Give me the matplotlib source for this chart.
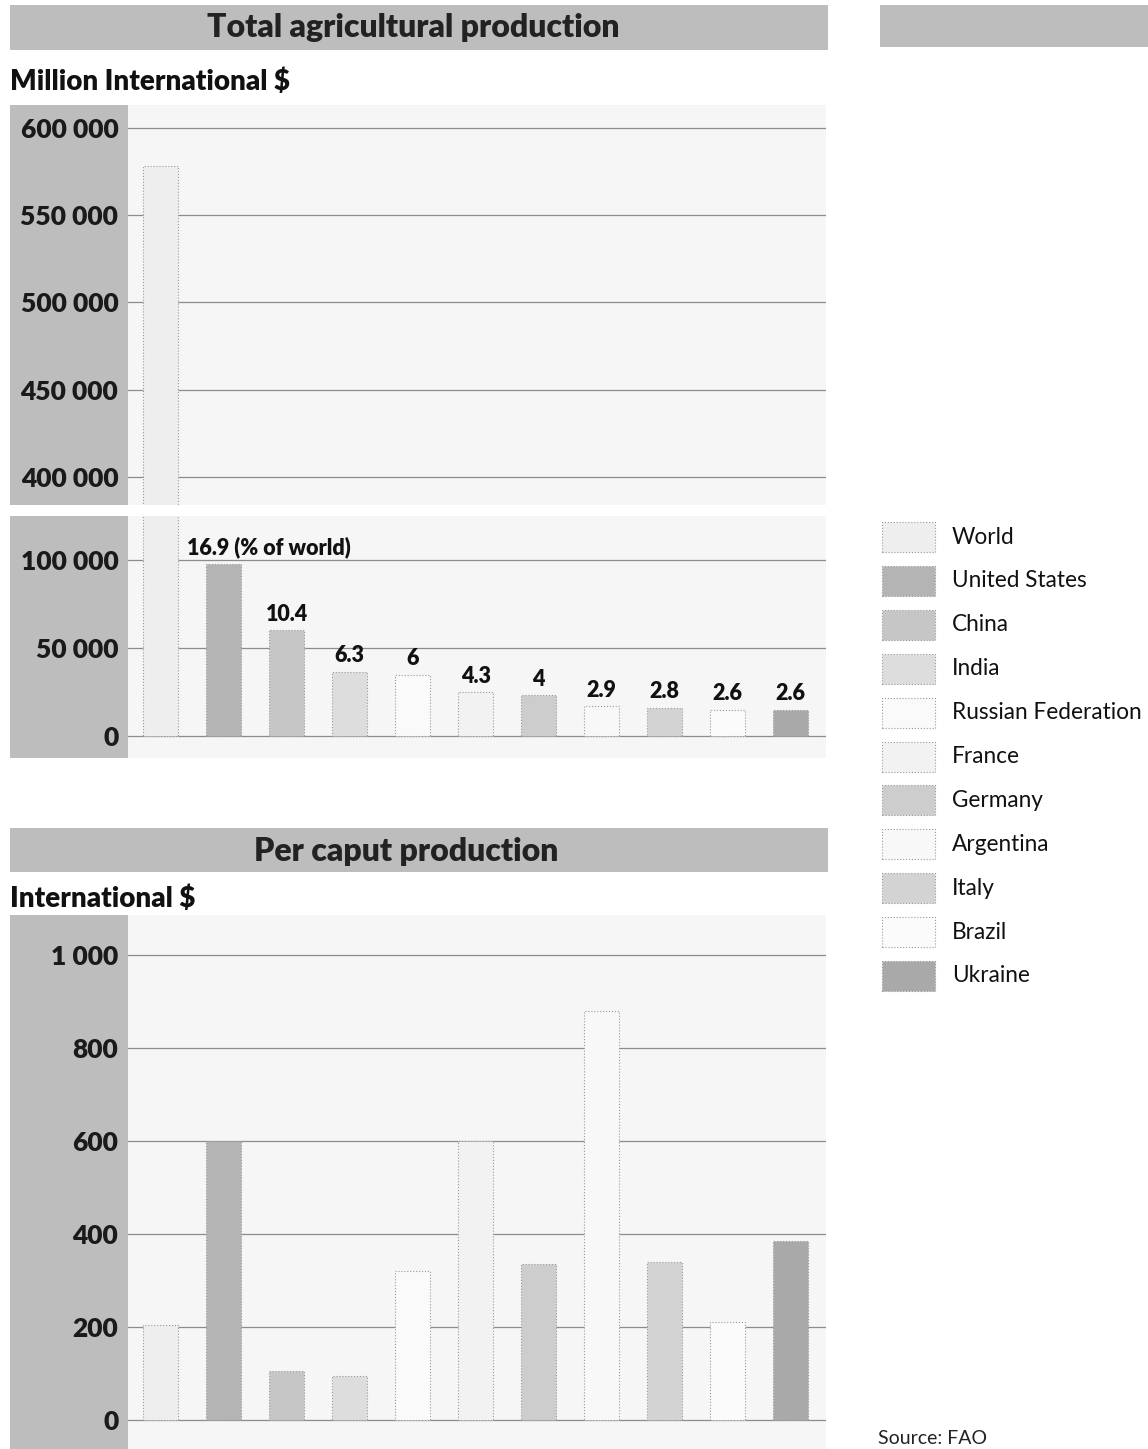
import matplotlib
matplotlib.use("Agg")
from matplotlib import pyplot as plt
from matplotlib.patches import Rectangle

countries = ["World", "United States", "China", "India", "Russian Federation",
             "France", "Germany", "Argentina", "Italy", "Brazil", "Ukraine"]
world_total = 578000          # million International $
share_pct = [16.9, 10.4, 6.3, 6, 4.3, 4, 2.9, 2.8, 2.6, 2.6]
per_caput = [205, 600, 105, 95, 320, 600, 335, 880, 340, 210, 385]
shades = ["#eeeeee", "#b4b4b4", "#c6c6c6", "#dddddd", "#fafafa", "#f2f2f2",
          "#cdcdcd", "#f8f8f8", "#d3d3d3", "#fbfbfb", "#a9a9a9"]
hi_ticks = [400000, 450000, 500000, 550000, 600000]
lo_ticks = [0, 50000, 100000]
pc_ticks = [0, 200, 400, 600, 800, 1000]

W, H = 1148, 1449
FONT = "Lato"
STRIP = "#bdbdbd"
BG = "#f6f6f6"


def rect(x0, y0, x1, y1):
    # pixel box (from top left) -> figure fraction [left, bottom, width, height]
    return [x0 / W, 1 - y1 / H, (x1 - x0) / W, (y1 - y0) / H]


def fmt(v):
    return f"{v:,}".replace(",", " ")


def style_axes(ax, ticks, ylim):
    ax.set_facecolor(BG)
    ax.set_xlim(-0.52, 10.56)
    ax.set_ylim(*ylim)
    ax.set_yticks(ticks)
    ax.set_yticklabels([fmt(t) for t in ticks], fontfamily=FONT,
                       fontweight="heavy", fontsize=19, color="#1a1a1a")
    ax.tick_params(axis="y", length=0, pad=7)
    ax.set_xticks([])
    ax.grid(axis="y", color="#8c8c8c", lw=0.9)
    ax.set_axisbelow(True)
    for s in ax.spines.values():
        s.set_visible(False)


def draw_bars(ax, values):
    x = range(len(values))
    ax.bar(x, values, width=0.55, color=shades, edgecolor="#9a9a9a",
           linewidth=0.8, linestyle=":", zorder=2)


fig = plt.figure(figsize=(W / 100, H / 100), dpi=100)

# grey banners and the strips behind the tick labels
for box in [(10, 5, 828, 50), (10, 828, 828, 872), (880, 5, 1148, 47),
            (10, 105, 128, 505), (10, 516, 128, 758), (10, 915, 128, 1449)]:
    r = rect(*box)
    fig.add_artist(Rectangle((r[0], r[1]), r[2], r[3], transform=fig.transFigure,
                             facecolor=STRIP, edgecolor="none", zorder=0))

fig.text(413 / W, 1 - 28 / H, "Total agricultural production", ha="center",
         va="center", fontfamily=FONT, fontweight="heavy", fontsize=23, color="#222222")
fig.text(406 / W, 1 - 851 / H, "Per caput production", ha="center",
         va="center", fontfamily=FONT, fontweight="heavy", fontsize=23, color="#222222")
fig.text(10 / W, 1 - 82 / H, "Million International $", ha="left", va="center",
         fontfamily=FONT, fontweight="heavy", fontsize=20, color="#111111")
fig.text(10 / W, 1 - 899 / H, "International $", ha="left", va="center",
         fontfamily=FONT, fontweight="heavy", fontsize=20, color="#111111")

totals = [world_total] + [world_total * p / 100 for p in share_pct]

# total production, split into an upper and a lower band
ax_hi = fig.add_axes(rect(128, 105, 826, 505))
style_axes(ax_hi, hi_ticks, (384000, 613000))
draw_bars(ax_hi, totals)

ax_lo = fig.add_axes(rect(128, 516, 826, 758))
style_axes(ax_lo, lo_ticks, (-12500, 125000))
draw_bars(ax_lo, totals)

for i, p in enumerate(share_pct, start=1):
    if i == 1:
        ax_lo.annotate(f"{p:g} (% of world)", (i - 0.58, totals[i]),
                       xytext=(0, 4), textcoords="offset points", ha="left",
                       va="bottom", fontfamily=FONT, fontweight="heavy",
                       fontsize=15.5, color="#111111")
    else:
        ax_lo.annotate(f"{p:g}", (i, totals[i]), xytext=(0, 4),
                       textcoords="offset points", ha="center", va="bottom",
                       fontfamily=FONT, fontweight="heavy", fontsize=15.5,
                       color="#111111")

# per caput production
ax_pc = fig.add_axes(rect(128, 915, 826, 1449))
style_axes(ax_pc, pc_ticks, (-62, 1086))
draw_bars(ax_pc, per_caput)

# legend
for i, (name, c) in enumerate(zip(countries, shades)):
    yc = 537 + i * 43.9
    r = rect(882, yc - 15, 935, yc + 15)
    fig.add_artist(Rectangle((r[0], r[1]), r[2], r[3], transform=fig.transFigure,
                             facecolor=c, edgecolor="#9a9a9a", lw=0.8,
                             linestyle=":", zorder=1))
    fig.text(952 / W, 1 - yc / H, name, ha="left", va="center",
             fontfamily=FONT, fontsize=16.3, color="#111111")

fig.text(878 / W, 2 / H, "Source: FAO", ha="left", va="bottom",
         fontfamily=FONT, fontsize=14, color="#222222")

fig.savefig("out.png", dpi=100)
